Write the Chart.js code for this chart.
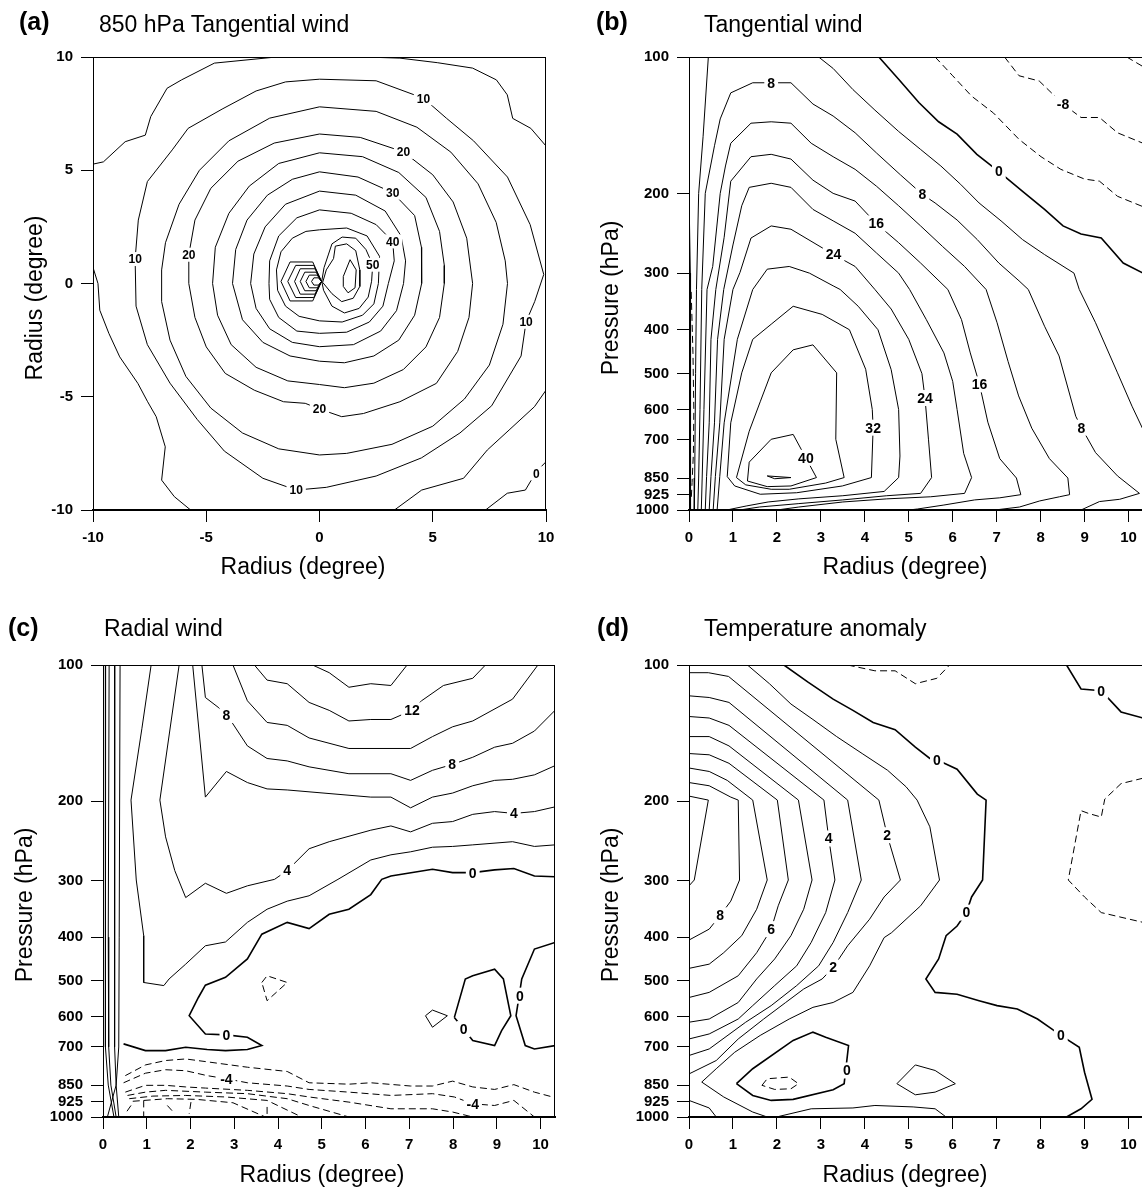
<!DOCTYPE html>
<html><head><meta charset="utf-8">
<script src="https://cdn.jsdelivr.net/npm/chart.js@4.4.1/dist/chart.umd.min.js"></script>
<style>
html,body{margin:0;padding:0;background:#fff;overflow:hidden;}
#wrap{position:relative;width:1142px;height:1188px;overflow:hidden;background:#fff;}
canvas{position:absolute;}
.t{position:absolute;font-family:"Liberation Sans",Arial,Helvetica,sans-serif;color:#000;white-space:nowrap;font-size:23px;line-height:23px;}
.p{position:absolute;font-family:"Liberation Sans",Arial,Helvetica,sans-serif;color:#000;white-space:nowrap;font-size:25px;line-height:25px;font-weight:bold;}
</style></head><body>
<div id="wrap">
<canvas id="ca" width="571" height="594" style="left:0;top:0"></canvas>
<canvas id="cb" width="600" height="594" style="left:571px;top:0"></canvas>
<canvas id="cc" width="571" height="594" style="left:0;top:594px"></canvas>
<canvas id="cd" width="600" height="594" style="left:571px;top:594px"></canvas>
<div class="p" style="left:19px;top:9px">(a)</div>
<div class="t" style="left:99px;top:13px">850 hPa Tangential wind</div>
<div class="p" style="left:596px;top:9px">(b)</div>
<div class="t" style="left:704px;top:13px">Tangential wind</div>
<div class="p" style="left:8px;top:615px">(c)</div>
<div class="t" style="left:104px;top:617px">Radial wind</div>
<div class="p" style="left:597px;top:615px">(d)</div>
<div class="t" style="left:704px;top:617px">Temperature anomaly</div>
</div>
<script>
// ---------- tick values ----------
const planeTicks = [-10, -5, 0, 5, 10];
const radiusTicks = [0, 1, 2, 3, 4, 5, 6, 7, 8, 9, 10];
const pressureTicks = [100, 200, 300, 400, 500, 600, 700, 850, 925, 1000];

// ---------- (a) 850 hPa tangential wind, contour lines [x, y] in degrees ----------
const a0 = [[10,-7.87],[9.57,-8.31],[9.09,-9.12],[8.29,-9.26],[7.33,-10]];
const a5top = [[-10,5.27],[-9.54,5.37],[-8.58,6.26],[-7.69,6.55],[-7.45,7.37],[-6.73,8.62],[-6.09,8.99],[-4.64,9.73],[-1.91,10],[0,10],[2.0,10],[3.55,9.95],[5.2,9.75],[6.76,9.51],[7.81,8.99],[8.29,8.33],[8.53,7.29],[9.33,6.85],[10,6.07]];
const a5left = [[-10,0.71],[-9.78,0],[-9.7,-1.18],[-9.3,-2.2],[-8.82,-3.24],[-8.02,-4.41],[-7.6,-5.2],[-7.21,-5.88],[-6.81,-7.21],[-6.97,-8.68],[-6.41,-9.41],[-5.69,-10]];
const a5right = [[10,-4.71],[9.49,-5.44],[8.37,-6.47],[7.41,-7.35],[6.36,-8.6],[4.51,-9.12],[3.31,-10]];
const a10 = [[0,9.02],[2.5,8.95],[4.59,8.18],[5.6,7.3],[6.8,6.3],[8.3,4.7],[9.3,2.6],[9.9,0.4],[9.5,-0.8],[9.12,-1.69],[8.9,-3.2],[7.6,-5.4],[6.2,-6.6],[4.5,-7.7],[2.5,-8.5],[0.3,-9.0],[-1.03,-9.12],[-2.5,-8.6],[-4.2,-7.4],[-5.4,-6.0],[-6.6,-4.4],[-7.6,-2.7],[-8.1,-1.0],[-8.14,1.08],[-8.0,2.8],[-7.6,4.5],[-6.5,5.9],[-5.8,6.85],[-4.3,7.7],[-2.8,8.5],[-1.5,8.9],[0,9.02]];
const a15 = [[0,7.8],[2.5,7.6],[4.3,6.9],[5.8,5.8],[7.0,4.4],[7.8,2.7],[8.2,1.0],[8.3,0],[8.1,-1.8],[7.5,-3.6],[6.4,-5.1],[5.0,-6.3],[3.2,-7.1],[1.2,-7.5],[0,-7.57],[-1.8,-7.3],[-3.4,-6.6],[-4.8,-5.5],[-5.9,-4.1],[-6.6,-2.5],[-6.97,-0.8],[-6.97,0.6],[-6.8,1.8],[-6.2,3.5],[-5.3,5.0],[-4.0,6.3],[-2.2,7.3],[0,7.8]];
const a20 = [[0,6.6],[1.8,6.45],[3.71,5.81],[5.0,4.8],[5.9,3.6],[6.5,2.0],[6.76,0],[6.6,-1.5],[6.1,-3.0],[5.16,-4.41],[3.55,-5.22],[1.94,-5.74],[0.98,-5.88],[0,-5.54],[-0.63,-5.29],[-1.59,-5.22],[-2.88,-4.71],[-4.16,-3.97],[-5.0,-2.8],[-5.5,-1.5],[-5.77,0],[-5.77,1.27],[-5.5,2.8],[-4.8,4.2],[-3.6,5.4],[-2.0,6.2],[0,6.6]];
const a25 = [[0,5.77],[1.9,5.6],[3.5,4.9],[4.7,3.8],[5.3,2.3],[5.51,0.8],[5.51,0],[5.3,-1.5],[4.7,-2.8],[3.7,-3.8],[2.4,-4.4],[1.1,-4.6],[0,-4.46],[-1.4,-4.3],[-2.8,-3.7],[-3.9,-2.7],[-4.5,-1.4],[-4.72,0],[-4.6,1.6],[-4.0,3.1],[-3.1,4.3],[-1.8,5.3],[0,5.77]];
const a30 = [[0,4.93],[1.7,4.7],[3.23,4.01],[4.2,3.0],[4.5,1.6],[4.51,0],[4.2,-1.4],[3.5,-2.5],[2.4,-3.2],[1.1,-3.5],[0,-3.43],[-1.3,-3.2],[-2.5,-2.6],[-3.4,-1.6],[-3.84,0],[-3.7,1.5],[-3.2,2.8],[-2.3,3.9],[-1.2,4.6],[0,4.93]];
const a35 = [[0,4.08],[1.6,3.9],[2.9,3.2],[3.6,2.1],[3.8,1.0],[3.71,0],[3.4,-1.2],[2.7,-2.1],[1.5,-2.7],[0,-2.79],[-1.2,-2.6],[-2.2,-2.0],[-2.8,-1.1],[-3.04,0],[-2.9,1.3],[-2.4,2.5],[-1.5,3.5],[0,4.08]];
const a40 = [[0,3.25],[1.4,3.1],[2.5,2.6],[3.23,1.86],[3.3,1.0],[3.04,0],[2.8,-1.0],[2.2,-1.7],[1.2,-2.15],[0,-2.2],[-1.0,-2.1],[-1.8,-1.5],[-2.2,-0.7],[-2.23,0],[-2.2,1.0],[-1.8,2.1],[-1.0,2.9],[0,3.25]];
const a45 = [[0,2.37],[1.2,2.45],[2.1,2.1],[2.65,1.2],[2.6,0],[2.4,-0.9],[1.9,-1.4],[1.0,-1.7],[0,-1.65],[-0.9,-1.45],[-1.5,-1.0],[-1.85,-0.3],[-1.9,0.6],[-1.7,1.4],[-1.2,2.0],[-0.6,2.3],[0,2.37]];
const a50 = [[0.55,1.75],[1.0,2.05],[1.6,2.0],[2.05,1.5],[2.35,0.83],[2.3,0.1],[2.15,-0.6],[1.75,-1.1],[1.1,-1.3],[0.55,-1.0],[0.18,-0.3],[0.1,0.1],[0.2,0.7],[0.4,1.3],[0.55,1.75]];
const a55 = [[0.7,1.65],[1.2,1.75],[1.6,1.45],[1.78,0.6],[1.78,-0.13],[1.49,-0.65],[0.98,-0.8],[0.55,-0.45],[0.14,0.05],[0.3,0.6],[0.62,1.1],[0.7,1.65]];
const a60 = [[1.05,0.31],[1.35,1.05],[1.62,0.6],[1.57,-0.19],[1.26,-0.41],[1.05,-0.13],[1.05,0.31]];
const aCore1 = [[0.09,0.09],[-0.05,0.25],[-0.25,0.25],[-0.35,0.09],[-0.25,-0.07],[-0.05,-0.07],[0.09,0.09]];
const aCore2 = [[0.09,0.09],[-0.1,0.37],[-0.45,0.37],[-0.6,0.09],[-0.45,-0.19],[-0.1,-0.19],[0.09,0.09]];
const aCore3 = [[0.09,0.09],[-0.15,0.5],[-0.65,0.5],[-0.85,0.09],[-0.65,-0.32],[-0.15,-0.32],[0.09,0.09]];
const aCore4 = [[0.09,0.09],[-0.2,0.65],[-0.85,0.65],[-1.1,0.09],[-0.85,-0.47],[-0.2,-0.47],[0.09,0.09]];
const aCore5 = [[0.09,0.09],[-0.25,0.8],[-1.05,0.8],[-1.4,0.09],[-1.05,-0.62],[-0.25,-0.62],[0.09,0.09]];
const aCore6 = [[0.09,0.09],[-0.3,0.95],[-1.3,0.95],[-1.7,0.09],[-1.3,-0.77],[-0.3,-0.77],[0.09,0.09]];
const aLabels = [[4.59,8.18,'10'],[3.71,5.81,'20'],[3.23,4.01,'30'],[3.23,1.86,'40'],[2.35,0.83,'50'],[-8.14,1.08,'10'],[-5.77,1.27,'20'],[9.12,-1.69,'10'],[0,-5.54,'20'],[-1.03,-9.12,'10'],[9.57,-8.38,'0']];

// ---------- (b) tangential wind, [radius deg, pressure hPa] ----------
const b0 = [[4.32,100],[4.77,112],[5.23,126],[5.68,139],[6.10,148],[6.55,164],[7.05,179],[7.59,198],[8.09,217],[8.51,236],[8.92,246],[9.38,251],[9.88,285],[10.33,300]];
const b0in = [[0,200],[0.03,300],[0.04,600],[0.03,1000]];
const bm4 = [[5.60,100],[6.0,110],[6.43,122],[6.93,133],[7.51,152],[8.01,166],[8.46,177],[9.0,186],[9.34,188],[9.75,203],[10.33,214]];
const bm8 = [[7.18,100],[7.51,110],[7.97,113],[8.51,127],[8.92,136],[9.34,136],[9.75,147],[10.33,155]];
const bm12 = [[9.96,100],[10.33,105]];
const bm4in = [[0.05,330],[0.09,450],[0.11,600],[0.1,750],[0.07,870],[0.05,950]];
const b4in = [[0.44,100],[0.32,150],[0.22,200],[0.17,326],[0.15,500],[0.13,850],[0.12,1000]];
const b4out = [[2.95,100],[3.28,106],[3.73,118],[4.23,131],[4.77,146],[5.27,160],[5.73,174],[6.18,191],[6.60,210],[7.10,230],[7.59,253],[8.09,273],[8.76,300],[8.88,326],[9.25,386],[9.75,498],[10.08,590],[10.33,664]];
const b8 = [[0.2,1000],[0.22,850],[0.25,600],[0.29,326],[0.37,200],[0.58,157],[0.71,137],[0.95,120],[1.45,114],[1.87,114],[2.32,114],[2.82,127],[3.28,135],[3.78,147],[4.27,163],[4.81,182],[5.31,201],[5.60,210],[6.10,229],[6.56,253],[7.05,285],[7.51,312],[7.72,326],[8.09,393],[8.42,457],[8.80,621],[8.93,658],[9.25,747],[9.75,841],[10.25,919],[9.80,947],[9.34,958],[8.92,1000]];
const b12 = [[0.28,1000],[0.3,850],[0.34,600],[0.41,326],[0.54,290],[0.71,200],[0.83,174],[0.95,155],[1.41,140],[1.87,139],[2.32,140],[2.78,155],[3.28,166],[3.78,177],[4.27,193],[4.77,213],[5.27,236],[5.77,262],[6.27,290],[6.76,326],[7.01,386],[7.26,470],[7.5,560],[7.8,660],[8.20,770],[8.62,850],[8.66,925],[8.43,935],[7.98,955],[7.52,985],[7.07,997],[6.97,1000]];
const b16 = [[0.37,1000],[0.4,844],[0.46,642],[0.5,420],[0.61,326],[0.8,250],[0.95,188],[1.41,166],[1.87,164],[2.32,168],[2.82,187],[3.28,200],[3.78,208],[4.26,233],[4.77,257],[5.27,285],[5.89,326],[6.2,380],[6.4,450],[6.61,528],[6.8,640],[7.07,770],[7.45,850],[7.55,925],[7.07,940],[6.5,950],[5.8,975],[5.2,995],[5.0,1000]];
const b20 = [[0.46,1000],[0.5,844],[0.58,642],[0.65,420],[0.79,326],[1.0,260],[1.2,213],[1.37,194],[1.87,190],[2.32,194],[2.82,217],[3.28,230],[3.78,245],[4.27,271],[4.77,300],[5.02,326],[5.4,380],[5.8,450],[6.0,520],[6.1,600],[6.25,750],[6.43,848],[6.27,919],[5.5,935],[4.5,945],[3.5,960],[2.5,985],[2.0,1000]];
const b24 = [[0.55,1000],[0.6,844],[0.7,642],[0.8,420],[1.0,326],[1.16,299],[1.41,251],[1.87,236],[2.32,240],[3.29,273],[3.78,290],[4.23,326],[4.6,360],[5.0,420],[5.3,500],[5.37,566],[5.45,700],[5.52,848],[5.27,919],[4.5,930],[3.5,950],[2.5,968],[1.6,985],[1.15,1000]];
const b28 = [[0.64,1000],[0.7,844],[0.8,642],[1.1,420],[1.45,326],[1.78,294],[2.28,290],[2.74,300],[3.28,320],[3.44,326],[3.85,355],[4.3,400],[4.6,490],[4.77,600],[4.8,760],[4.77,848],[4.44,910],[3.5,930],[2.5,945],[1.8,960],[1.3,980],[0.86,1000]];
const b32 = [[2.37,355],[3.03,370],[3.65,400],[4.02,489],[4.17,600],[4.19,658],[4.15,848],[3.49,885],[2.45,916],[1.62,923],[1.04,885],[0.87,844],[0.95,642],[1.2,498],[1.45,420],[1.87,389],[2.37,355]];
const b36 = [[1.87,498],[2.37,443],[2.82,432],[3.36,498],[3.34,698],[3.53,848],[3.11,872],[2.28,900],[1.87,900],[1.29,880],[1.08,848],[1.37,670],[1.62,577],[1.87,498]];
const b40 = [[1.87,698],[2.37,681],[2.90,848],[2.32,885],[1.78,888],[1.33,863],[1.37,784],[1.87,698]];
const b44 = [[1.78,841],[2.32,848],[1.95,853],[1.78,841]];
const bLabels = [[1.87,114,'8'],[5.31,201,'8'],[8.93,658,'8'],[4.26,233,'16'],[6.61,528,'16'],[3.29,273,'24'],[5.37,566,'24'],[4.19,658,'32'],[2.66,767,'40'],[7.05,179,'0'],[8.51,127,'-8']];

// ---------- (c) radial wind ----------
const c14 = [[4.79,100],[5.17,104],[5.62,112],[6.12,110],[6.58,111],[6.95,100]];
const c12 = [[3.46,100],[3.75,108],[4.21,110],[4.71,121],[5.17,126],[5.62,133],[6.12,132],[6.58,132],[7.06,126],[7.28,120],[7.78,111],[8.45,107],[8.74,100]];
const c10 = [[2.97,100],[3.30,120],[3.75,134],[4.21,136],[4.71,145],[5.62,153],[7.03,153],[7.53,144],[7.99,137],[8.45,133],[9.36,119],[9.94,100]];
const c8 = [[2.26,100],[2.34,118],[2.63,124],[2.82,129],[2.97,135],[3.30,151],[3.75,161],[4.21,163],[4.71,168],[5.62,174],[6.58,174],[7.03,180],[7.53,171],[7.98,166],[8.45,160],[8.95,152],[9.36,149],[9.86,140],[10.33,126]];
const c6 = [[2.05,100],[2.34,196],[2.82,172],[3.30,182],[3.75,188],[4.21,189],[6.12,196],[6.58,196],[7.03,207],[7.53,196],[7.99,192],[8.45,185],[8.95,180],[9.36,179],[9.86,175],[10.33,167]];
const c4 = [[1.74,100],[1.30,199],[1.43,240],[1.64,285],[1.89,327],[2.34,304],[2.82,320],[3.30,308],[3.92,298],[4.21,285],[4.71,255],[5.17,246],[6.12,232],[6.58,227],[7.03,234],[7.53,224],[7.99,222],[8.45,214],[8.95,211],[9.39,213],[9.86,211],[10.33,206]];
const c2 = [[1.10,100],[0.89,138],[0.64,199],[0.76,299],[0.93,397],[0.93,504],[1.39,512],[1.51,495],[1.89,459],[2.34,418],[2.80,410],[3.30,371],[3.75,347],[4.21,333],[4.71,324],[5.37,298],[6.12,270],[6.58,263],[7.03,259],[7.53,253],[7.99,252],[8.45,250],[9.36,246],[9.86,252],[10.33,250]];
const c0 = [[0.47,689],[0.97,713],[1.43,713],[1.89,701],[2.38,709],[2.80,713],[3.30,709],[3.63,695],[3.30,666],[2.82,658],[2.34,655],[1.97,597],[2.18,544],[2.34,511],[2.80,491],[3.30,447],[3.63,394],[4.21,371],[4.71,383],[5.17,356],[5.62,347],[6.12,322],[6.37,298],[6.58,293],[7.53,283],[7.99,288],[8.45,288],[8.95,284],[9.39,282],[9.86,293],[10.33,294]];
const c0loop = [[8.03,602],[8.28,495],[8.45,487],[8.95,471],[9.15,495],[9.32,597],[9.11,644],[8.95,695],[8.45,677],[8.03,602]];
const c0edge = [[10.33,411],[9.86,425],[9.57,495],[9.44,597],[9.65,695],[9.86,707],[10.33,695]];
const cSmall = [[7.37,597],[7.53,580],[7.87,597],[7.53,633],[7.37,597]];
const cNegSmall = [[3.63,504],[3.75,487],[4.21,504],[3.75,553],[3.63,504]];
const cNeg1 = [[0.51,810],[0.97,767],[1.43,750],[1.89,744],[2.34,754],[3.30,776],[4.21,793],[4.71,840],[5.62,846],[6.12,840],[7.03,854],[7.53,854],[7.99,833],[8.45,858],[8.95,869],[9.39,848],[9.86,881],[10.33,906]];
const cNeg2 = [[0.47,840],[0.97,800],[1.43,786],[1.89,790],[2.38,810],[2.82,823],[3.30,840],[4.21,854],[4.71,869],[5.62,881],[6.58,896],[7.53,888],[8.03,903],[8.45,935],[8.95,943],[9.39,919],[9.86,1000]];
const cNeg3 = [[0.51,881],[0.97,851],[1.43,851],[1.89,858],[2.34,863],[3.30,873],[4.21,888],[4.71,903],[5.62,927],[6.58,959],[7.53,959],[7.99,975],[8.45,1000]];
const cNeg4 = [[0.56,896],[0.97,881],[1.43,873],[2.34,881],[3.30,888],[4.21,911],[4.71,943],[5.62,1000]];
const cNeg5 = [[0.60,911],[1.14,899],[1.89,896],[2.80,903],[3.75,919],[4.54,1000]];
const cNeg6 = [[0.68,923],[1.47,911],[2.13,914],[2.97,930],[3.71,1000]];
const cNegStub1 = [[1.47,943],[1.64,983]];
const cNegStub2 = [[2.01,927],[1.97,983]];
const cNegStub3 = [[3.75,950],[3.75,1000]];
const cNegStub4 = [[0.93,919],[0.93,1000]];
const cNegStub5 = [[0.64,943],[0.51,983]];
const cCore1 = [[0.06,100],[0.05,400],[0.06,700],[0.12,850],[0.25,1000]];
const cCore2 = [[0.14,100],[0.12,400],[0.13,700],[0.18,850],[0.3,1000]];
const cCore3 = [[0.27,100],[0.26,400],[0.27,700],[0.3,850],[0.36,1000]];
const cCore4 = [[0.39,100],[0.37,400],[0.36,700],[0.3,850],[0.1,1000]];
const cLabels = [[7.06,126,'12'],[2.82,129,'8'],[7.98,166,'8'],[4.21,285,'4'],[9.39,213,'4'],[2.82,658,'0'],[8.45,288,'0'],[8.24,639,'0'],[9.53,539,'0'],[2.82,823,'-4'],[8.45,935,'-4']];

// ---------- (d) temperature anomaly ----------
const d9 = [[0,195],[0.44,199],[0.12,299],[0,308]];
const d8 = [[0,182],[0.46,185],[0.95,196],[1.12,199],[1.15,299],[0.95,333],[0.71,358],[0.46,384],[0,406]];
const d7 = [[0,169],[0.46,172],[0.87,180],[1.45,199],[1.78,299],[1.54,347],[1.20,397],[0.79,433],[0.46,459],[0,469]];
const d6 = [[0,157],[0.46,158],[0.91,165],[2.01,199],[2.26,299],[2.03,341],[1.87,384],[1.54,433],[1.12,487],[0.46,530],[0,544]];
const d5 = [[0,144],[0.46,144],[0.91,151],[2.49,199],[2.80,299],[2.61,347],[2.32,397],[1.95,447],[1.54,495],[1.12,558],[0.46,607],[0,617]];
const d4 = [[0,130],[0.46,131],[0.91,136],[3.07,199],[3.18,242],[3.32,299],[3.11,353],[2.78,411],[2.45,463],[1.95,512],[1.45,567],[1.12,607],[0.46,655],[0,672]];
const d3 = [[0,117],[0.46,118],[0.91,121],[3.61,199],[3.92,299],[3.61,353],[3.28,411],[2.95,463],[2.45,512],[1.87,567],[1.29,617],[0.46,707],[0,731]];
const d2 = [[0,104],[0.44,104],[0.90,106],[4.32,199],[4.51,238],[4.81,299],[4.44,326],[4.11,365],[3.61,418],[3.28,467],[3.03,495],[2.61,521],[2.20,558],[1.70,607],[1.12,672],[0.62,750],[0,803]];
const d1 = [[1.33,100],[1.83,110],[2.32,122],[2.82,132],[3.36,144],[3.94,157],[4.52,171],[4.94,186],[5.19,199],[5.48,228],[5.70,299],[5.27,341],[4.61,391],[4.44,401],[4.11,463],[3.73,530],[3.28,558],[2.82,572],[2.28,607],[1.62,660],[1.04,719],[0.62,782],[0.29,837],[0.79,903],[1.45,975],[1.78,1000]];
const d0 = [[2.16,100],[2.70,109],[3.28,119],[3.73,126],[4.19,134],[4.69,139],[5.15,152],[5.48,161],[5.64,162],[6.10,170],[6.56,193],[6.76,199],[6.68,299],[6.43,326],[6.31,353],[6.10,378],[5.85,397],[5.68,447],[5.39,495],[5.60,530],[6.10,535],[6.60,553],[7.01,567],[7.47,577],[7.93,607],[8.26,639],[8.46,660],[8.88,701],[9.00,796],[9.17,914],[8.92,959],[8.59,1000]];
const d0loopA = [[1.08,844],[1.45,896],[1.87,919],[2.37,914],[3.28,870],[3.53,844],[3.63,695],[3.11,666],[2.82,649],[2.37,677],[1.45,782],[1.08,844]];
const dNegLoop = [[1.66,851],[1.78,823],[2.28,816],[2.49,844],[2.32,866],[1.95,869],[1.66,851]];
const d0loopB = [[4.73,844],[5.15,767],[5.60,789],[6.06,844],[5.60,881],[5.15,893],[4.73,844]];
const dSurface = [[1.99,1000],[2.78,959],[3.73,955],[4.23,943],[5.10,950],[5.60,959],[5.85,1000]];
const dCorner = [[0,919],[0.46,955],[0.62,1000]];
const d0top = [[8.59,100],[8.92,113],[9.38,114],[9.83,127],[10.33,131]];
const dNegTop = [[3.61,100],[4.23,103],[4.69,103],[5.15,110],[5.64,107],[5.93,100]];
const dNegRight = [[10.33,178],[9.83,183],[9.46,198],[9.38,217],[9.09,213],[8.92,210],[8.63,299],[9.00,326],[9.38,353],[10.33,371]];
const dLabels = [[0.71,358,'8'],[1.87,384,'6'],[3.18,242,'4'],[4.51,238,'2'],[3.28,467,'2'],[5.64,162,'0'],[6.31,353,'0'],[8.46,660,'0'],[9.38,114,'0'],[3.59,789,'0']];

// ---------- drawing ----------
const FONT = '"Liberation Sans", Arial, Helvetica, sans-serif';

const overlay = {
  id: 'overlay',
  afterDatasetsDraw(chart) {
    const o = chart.options.plugins.overlay;
    const ctx = chart.ctx, a = chart.chartArea;
    ctx.save();
    ctx.strokeStyle = '#000'; ctx.lineWidth = 1;
    ctx.beginPath();
    ctx.moveTo(a.left, a.top + 0.5); ctx.lineTo(a.right, a.top + 0.5);
    ctx.moveTo(a.right - 0.5, a.top); ctx.lineTo(a.right - 0.5, a.bottom);
    ctx.stroke();
    const xs = chart.scales.x, ys = chart.scales.y;
    ctx.font = 'bold ' + o.labelSize + 'px ' + FONT;
    ctx.textAlign = 'center'; ctx.textBaseline = 'middle';
    for (const l of o.labels) {
      const px = xs.getPixelForValue(l[0]), py = ys.getPixelForValue(l[1]);
      const w = ctx.measureText(l[2]).width;
      ctx.fillStyle = '#fff';
      ctx.fillRect(px - w / 2 - 3, py - o.labelSize / 2 - 1, w + 6, o.labelSize + 2);
      ctx.fillStyle = '#000';
      ctx.fillText(l[2], px, py + 1);
    }
    ctx.font = '23px ' + FONT;
    ctx.textBaseline = 'alphabetic';
    ctx.fillText(o.xTitle[0], o.xTitle[1], o.xTitle[2]);
    ctx.translate(o.yTitle[1], o.yTitle[2]);
    ctx.rotate(-Math.PI / 2);
    ctx.fillText(o.yTitle[0], 0, 0);
    ctx.restore();
  }
};

function build(id, c) {
  const datasets = c.lines.map(l => ({
    data: l[0].map(p => ({x: p[0], y: p[1]})),
    showLine: true, pointRadius: 0, pointHoverRadius: 0,
    borderColor: '#000', backgroundColor: '#000',
    borderWidth: l[2] || 1, borderDash: l[1] ? [7, 4] : [],
    fill: false, tension: 0
  }));
  const tickFont = {family: FONT, size: 15, weight: 'bold'};
  const grid = {display: true, drawOnChartArea: false, drawTicks: true, tickLength: 12, color: '#000', lineWidth: 1};
  new Chart(document.getElementById(id), {
    type: 'scatter',
    data: {datasets},
    options: {
      responsive: false, animation: false, devicePixelRatio: 1, events: [],
      layout: {padding: c.pad},
      plugins: {legend: {display: false}, tooltip: {enabled: false},
        overlay: {labels: c.labels, labelSize: c.labelSize, xTitle: c.xTitle, yTitle: c.yTitle}},
      scales: {
        x: {type: 'linear', position: 'bottom', min: c.xmin, max: c.xmax,
          afterBuildTicks: s => { s.ticks = c.xticks.map(v => ({value: v})); },
          afterFit: s => { s.height = c.xh; },
          ticks: {autoSkip: false, maxRotation: 0, minRotation: 0, padding: 7, color: '#000', font: tickFont, callback: v => String(v)},
          grid: grid, border: {display: true, color: '#000', width: 2}},
        y: {type: c.ylog ? 'logarithmic' : 'linear', position: 'left', min: c.ymin, max: c.ymax, reverse: !!c.ylog,
          afterBuildTicks: s => { s.ticks = c.yticks.map(v => ({value: v})); },
          afterFit: s => { s.width = c.yw; },
          ticks: {autoSkip: false, padding: 8, color: '#000', font: tickFont, callback: v => String(v)},
          grid: grid, border: {display: true, color: '#000', width: 1}}
      }
    },
    plugins: [overlay]
  });
}

build('ca', {
  pad: {left: 0, top: 57, right: 25, bottom: 0}, yw: 93, xh: 84,
  xmin: -10, xmax: 10, ymin: -10, ymax: 10, xticks: planeTicks, yticks: planeTicks, ylog: false,
  labelSize: 12, labels: aLabels,
  xTitle: ['Radius (degree)', 303, 574], yTitle: ['Radius (degree)', 42, 298],
  lines: [[a0],[a5top],[a5left],[a5right],[a10],[a15],[a20],[a25],[a30],[a35],[a40],[a45],[a50],[a55],[a60],
    [aCore1],[aCore2],[aCore3],[aCore4],[aCore5],[aCore6]]
});
build('cb', {
  pad: {left: 0, top: 57, right: 28, bottom: 0}, yw: 118, xh: 84,
  xmin: 0, xmax: 10.33, ymin: 100, ymax: 1000, xticks: radiusTicks, yticks: pressureTicks, ylog: true,
  labelSize: 14, labels: bLabels,
  xTitle: ['Radius (degree)', 334, 574], yTitle: ['Pressure (hPa)', 47, 298],
  lines: [[b0,false,1.6],[b0in],[bm4,true],[bm8,true],[bm12,true],[bm4in,true],[b4in],[b4out],[b8],[b12],[b16],[b20],[b24],[b28],[b32],[b36],[b40],[b44]]
});
build('cc', {
  pad: {left: 0, top: 71, right: 16, bottom: 0}, yw: 103, xh: 71,
  xmin: 0, xmax: 10.33, ymin: 100, ymax: 1000, xticks: radiusTicks, yticks: pressureTicks, ylog: true,
  labelSize: 14, labels: cLabels,
  xTitle: ['Radius (degree)', 322, 588], yTitle: ['Pressure (hPa)', 32, 311],
  lines: [[c14],[c12],[c10],[c8],[c6],[c4],[c2],[c0,false,1.6],[c0loop,false,1.6],[c0edge,false,1.6],[cSmall],[cNegSmall,true],
    [cNeg1,true],[cNeg2,true],[cNeg3,true],[cNeg4,true],[cNeg5,true],[cNeg6,true],
    [cNegStub1,true],[cNegStub2,true],[cNegStub3,true],[cNegStub4,true],[cNegStub5,true],
    [cCore1],[cCore2],[cCore3],[cCore4]]
});
build('cd', {
  pad: {left: 0, top: 71, right: 28, bottom: 0}, yw: 118, xh: 71,
  xmin: 0, xmax: 10.33, ymin: 100, ymax: 1000, xticks: radiusTicks, yticks: pressureTicks, ylog: true,
  labelSize: 14, labels: dLabels,
  xTitle: ['Radius (degree)', 334, 588], yTitle: ['Pressure (hPa)', 47, 311],
  lines: [[d9],[d8],[d7],[d6],[d5],[d4],[d3],[d2],[d1],[d0,false,1.6],[d0loopA,false,1.6],[dNegLoop,true],[d0loopB],[dSurface],[dCorner],[d0top,false,1.6],[dNegTop,true],[dNegRight,true]]
});
</script>
</body></html>
